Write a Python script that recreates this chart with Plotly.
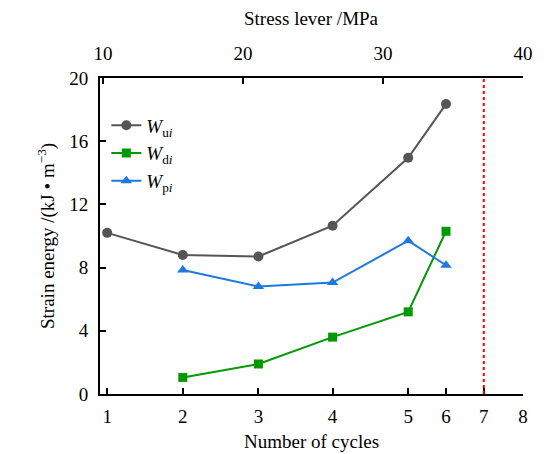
import plotly.graph_objects as go

# stress level (MPa) corresponding to each cycle position on the bottom axis
cycle_labels = ["1", "2", "3", "4", "5", "6", "7", "8"]
cycle_stress = [10.3, 15.7, 21.1, 26.4, 31.8, 34.5, 37.2, 40.0]

stress_ticks = [10, 20, 30, 40]

wu_cycles = [1, 2, 3, 4, 5, 6]
wu_vals = [10.2, 8.8, 8.7, 10.65, 14.95, 18.35]

wd_cycles = [2, 3, 4, 5, 6]
wd_vals = [1.05, 1.9, 3.6, 5.2, 10.3]

wp_cycles = [2, 3, 4, 5, 6]
wp_vals = [7.85, 6.8, 7.05, 9.7, 8.15]

failure_cycle = 7

x_title = "Number of cycles"
x2_title = "Stress lever /MPa"
y_title = "Strain energy /(kJ • m<sup>−3</sup>)"

def sx(cycles):
    return [cycle_stress[c - 1] for c in cycles]

font = dict(family="Liberation Serif", size=19, color="black")
title_font = dict(family="Liberation Serif", size=19, color="black")

fig = go.Figure()
fig.add_trace(go.Scatter(x=sx(wu_cycles), y=wu_vals, mode="lines+markers",
                         name="<i>W</i><sub>u<i>i</i></sub>",
                         line=dict(color="#555555", width=2),
                         marker=dict(symbol="circle", size=10, color="#555555")))
fig.add_trace(go.Scatter(x=sx(wd_cycles), y=wd_vals, mode="lines+markers",
                         name="<i>W</i><sub>d<i>i</i></sub>",
                         line=dict(color="#009900", width=2),
                         marker=dict(symbol="square", size=9, color="#009900")))
fig.add_trace(go.Scatter(x=sx(wp_cycles), y=wp_vals, mode="lines+markers",
                         name="<i>W</i><sub>p<i>i</i></sub>",
                         line=dict(color="#1f77e0", width=2),
                         marker=dict(symbol="triangle-up", size=10, color="#1f77e0")))
# invisible trace to activate top axis
fig.add_trace(go.Scatter(x=stress_ticks, y=[None] * 4, xaxis="x2", showlegend=False,
                         hoverinfo="skip"))

fx = cycle_stress[failure_cycle - 1]
fig.add_shape(type="line", x0=fx, x1=fx, y0=0, y1=20, xref="x", yref="y",
              line=dict(color="red", width=2, dash="dot"))

fig.add_annotation(text=x_title, xref="paper", yref="paper", x=0.5, y=0,
                   xanchor="center", yanchor="middle", yshift=-47,
                   showarrow=False, font=title_font)
fig.add_annotation(text=x2_title, xref="paper", yref="paper", x=0.5, y=1,
                   xanchor="center", yanchor="middle", yshift=60,
                   showarrow=False, font=title_font)
fig.add_annotation(text=y_title, xref="paper", yref="paper", x=0, y=0.5,
                   xanchor="center", yanchor="middle", xshift=-54, textangle=-90,
                   showarrow=False, font=title_font)

xr = [9.786, 40]
axis_common = dict(showline=True, linecolor="black", linewidth=2,
                   ticks="inside", ticklen=6, tickwidth=2, tickcolor="black",
                   showgrid=False, zeroline=False, automargin=False)
fig.update_layout(
    width=555, height=454,
    margin=dict(l=100, r=32, t=78, b=60),
    paper_bgcolor="white", plot_bgcolor="white",
    font=font,
    showlegend=True,
    legend=dict(x=0.015, y=0.91, xanchor="left", yanchor="top",
                bgcolor="rgba(0,0,0,0)", font=dict(size=19), tracegroupgap=0,
                itemwidth=30),
    xaxis=dict(range=xr, tickvals=cycle_stress, ticktext=cycle_labels,
               ticklabelstandoff=4, **axis_common),
    xaxis2=dict(range=xr, overlaying="x", side="top", tickvals=stress_ticks,
                ticklabelstandoff=8, **axis_common),
    yaxis=dict(range=[0, 20], tickvals=[0, 4, 8, 12, 16, 20],
               ticklabelstandoff=6, **axis_common),
)

fig.write_html("out.html")
